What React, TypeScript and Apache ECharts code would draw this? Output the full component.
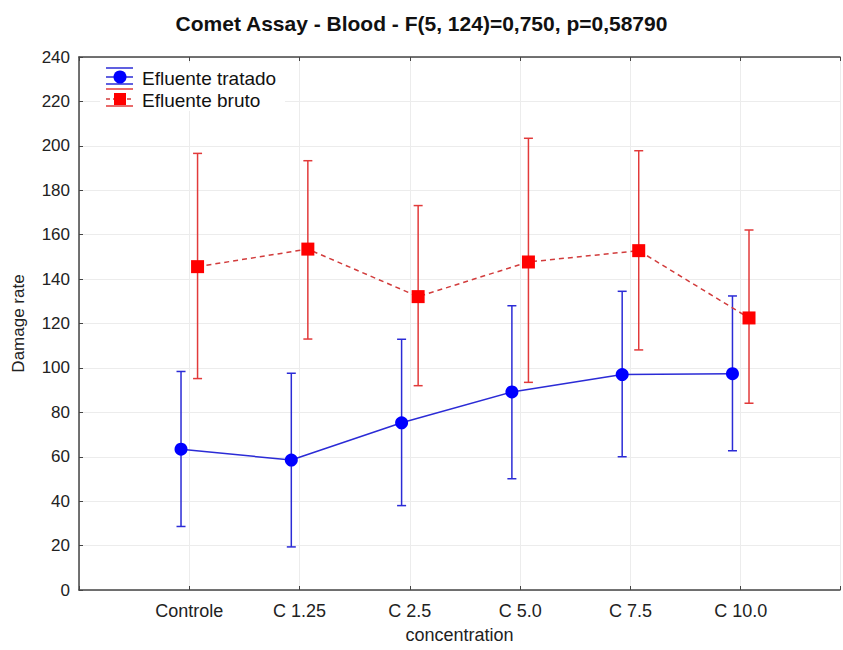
import React, { useEffect, useRef } from "react";
import * as echarts from "echarts";

const categories = ["Controle", "C 1.25", "C 2.5", "C 5.0", "C 7.5", "C 10.0"];
const tratadoMean = [63.4, 58.5, 75.3, 89.2, 97.0, 97.4];
const tratadoLow = [28.6, 19.4, 38.0, 50.1, 60.0, 62.7];
const tratadoHigh = [98.4, 97.6, 112.9, 128.0, 134.5, 132.4];
const brutoMean = [145.6, 153.5, 132.1, 147.7, 152.8, 122.5];
const brutoLow = [95.2, 113.0, 92.0, 93.5, 108.1, 84.1];
const brutoHigh = [196.6, 193.3, 173.1, 203.4, 197.8, 162.1];
const yTicks = { min: 0, max: 240, interval: 20 };

const OFFSET = 0.075;
const BLUE = "#0000ff";
const BLUE_LINE = "#2b2bd6";
const RED = "#ff0000";
const RED_LINE = "#d23c3c";
const RED_BAR = "#e23a3a";

function errorBar(color: string) {
  return (params: any, api: any) => {
    const x = api.value(0);
    const lo = api.coord([x, api.value(1)]);
    const hi = api.coord([x, api.value(2)]);
    const w = 4.5;
    const style = { stroke: color, lineWidth: 1.5 };
    return {
      type: "group",
      children: [
        { type: "line", shape: { x1: lo[0], y1: lo[1], x2: hi[0], y2: hi[1] }, style },
        { type: "line", shape: { x1: hi[0] - w, y1: hi[1], x2: hi[0] + w, y2: hi[1] }, style },
        { type: "line", shape: { x1: lo[0] - w, y1: lo[1], x2: lo[0] + w, y2: lo[1] }, style },
      ],
    };
  };
}

export default function App() {
  const ref = useRef<HTMLDivElement>(null);
  useEffect(() => {
    if (!ref.current) return;
    const chart = echarts.init(ref.current, null, { renderer: "svg" });
    const font = "'Liberation Sans', Arial, sans-serif";
    const xLabel = (v: number) => {
      const i = Math.round(v);
      return Math.abs(v - i) < 1e-6 && i >= 0 && i < categories.length ? categories[i] : "";
    };
    const option: any = {
      animation: false,
      backgroundColor: "#ffffff",
      textStyle: { fontFamily: font },
      title: {
        text: "Comet Assay - Blood - F(5, 124)=0,750, p=0,58790",
        left: "center",
        top: 8,
        textStyle: { fontSize: 21, fontWeight: "bold", color: "#111", fontFamily: font },
      },
      grid: { left: 79, right: 0, top: 57, bottom: 60 },
      xAxis: [
        {
          type: "value",
          min: -1,
          max: 5.9,
          interval: 1,
          position: "bottom",
          name: "concentration",
          nameLocation: "middle",
          nameGap: 36,
          nameTextStyle: { fontSize: 18, color: "#222", fontFamily: font },
          axisLine: { show: true, onZero: false, lineStyle: { color: "#444", width: 1.5 } },
          axisTick: { show: true, inside: true, length: 4, lineStyle: { color: "#444" } },
          axisLabel: { formatter: xLabel, fontSize: 18, color: "#222", margin: 12, fontFamily: font },
          splitLine: { show: true, lineStyle: { color: "#ececec", width: 1 } },
        },
        {
          type: "value",
          min: -1,
          max: 5.9,
          interval: 1,
          position: "top",
          axisLine: { show: true, onZero: false, lineStyle: { color: "#444", width: 1.5 } },
          axisTick: { show: true, inside: true, length: 4, lineStyle: { color: "#444" } },
          axisLabel: { show: false },
          splitLine: { show: false },
        },
      ],
      yAxis: {
        type: "value",
        min: yTicks.min,
        max: yTicks.max,
        interval: yTicks.interval,
        name: "Damage rate",
        nameLocation: "middle",
        nameGap: 52,
        nameTextStyle: { fontSize: 17, color: "#222", fontFamily: font },
        axisLine: { show: true, onZero: false, lineStyle: { color: "#444", width: 1.5 } },
        axisTick: { show: true, inside: true, length: 4, lineStyle: { color: "#444" } },
        axisLabel: { fontSize: 17, color: "#222", margin: 9, fontFamily: font },
        splitLine: { show: true, lineStyle: { color: "#ececec", width: 1 } },
      },
      series: [
        {
          type: "custom",
          name: "tratado-err",
          renderItem: errorBar(BLUE_LINE),
          data: tratadoMean.map((_, i) => [i - OFFSET, tratadoLow[i], tratadoHigh[i]]),
          z: 2,
        },
        {
          type: "custom",
          name: "bruto-err",
          renderItem: errorBar(RED_BAR),
          data: brutoMean.map((_, i) => [i + OFFSET, brutoLow[i], brutoHigh[i]]),
          z: 2,
        },
        {
          type: "line",
          name: "Efluente tratado",
          data: tratadoMean.map((v, i) => [i - OFFSET, v]),
          symbol: "circle",
          symbolSize: 13,
          itemStyle: { color: BLUE },
          lineStyle: { color: BLUE_LINE, width: 1.5 },
          z: 3,
        },
        {
          type: "line",
          name: "Efluente bruto",
          data: brutoMean.map((v, i) => [i + OFFSET, v]),
          symbol: "rect",
          symbolSize: 13,
          itemStyle: { color: RED },
          lineStyle: { color: RED_LINE, width: 1.5, type: [5, 4] },
          z: 3,
        },
      ],
      graphic: [
        { type: "rect", shape: { x: 100, y: 63, width: 185, height: 48 }, style: { fill: "#ffffff" }, z: 100 },
        { type: "line", shape: { x1: 106, y1: 68, x2: 133, y2: 68 }, style: { stroke: BLUE_LINE, lineWidth: 1.5 }, z: 101 },
        { type: "line", shape: { x1: 106, y1: 77, x2: 133, y2: 77 }, style: { stroke: BLUE_LINE, lineWidth: 1.5 }, z: 101 },
        { type: "line", shape: { x1: 106, y1: 84, x2: 133, y2: 84 }, style: { stroke: BLUE_LINE, lineWidth: 1.5 }, z: 101 },
        { type: "circle", shape: { cx: 120, cy: 77, r: 6.5 }, style: { fill: BLUE }, z: 102 },
        { type: "text", x: 142, y: 78, z: 102, style: { text: "Efluente tratado", fontSize: 19, fill: "#111", fontFamily: font, verticalAlign: "middle" } },
        { type: "line", shape: { x1: 106, y1: 89, x2: 133, y2: 89 }, style: { stroke: RED_BAR, lineWidth: 1.5 }, z: 101 },
        { type: "line", shape: { x1: 106, y1: 99, x2: 133, y2: 99 }, style: { stroke: RED_LINE, lineWidth: 1.5, lineDash: [4, 3] }, z: 101 },
        { type: "line", shape: { x1: 106, y1: 106, x2: 133, y2: 106 }, style: { stroke: RED_BAR, lineWidth: 1.5 }, z: 101 },
        { type: "rect", shape: { x: 114, y: 93, width: 12, height: 12 }, style: { fill: RED }, z: 102 },
        { type: "text", x: 142, y: 100, z: 102, style: { text: "Efluente bruto", fontSize: 19, fill: "#111", fontFamily: font, verticalAlign: "middle" } },
      ],
    };
    chart.setOption(option);
    return () => chart.dispose();
  }, []);
  return (
    <div
      ref={ref}
      style={{ position: "absolute", left: 0, top: 0, width: 843, height: 650, background: "#fff" }}
    />
  );
}
